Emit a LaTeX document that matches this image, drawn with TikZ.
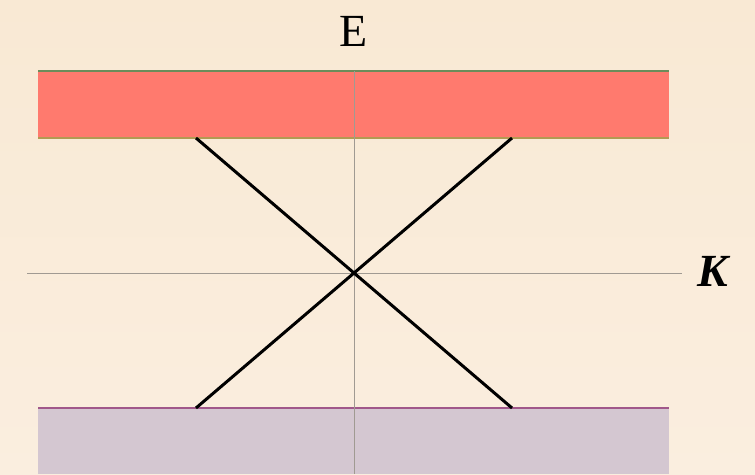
\documentclass[tikz,border=0pt]{standalone}
\usepackage{fontspec}
\setmainfont{Liberation Serif}
\definecolor{bgtop}{HTML}{F9E9D4}
\definecolor{bgbot}{HTML}{FAEEDF}
\definecolor{condband}{HTML}{FF7A6E}
\definecolor{valband}{HTML}{D4C7D1}
\definecolor{condedge}{HTML}{6C8C5A}
\definecolor{condlow}{HTML}{B39A52}
\definecolor{valedge}{HTML}{A0588A}
\definecolor{axisgrey}{HTML}{A09A92}
\tikzset{
  axisline/.style={draw=axisgrey, line width=1pt},
  coneline/.style={draw=black, line width=3pt},
  axislabel/.style={inner sep=0pt, font=\fontsize{46}{52}\selectfont}
}
\begin{document}
\begin{tikzpicture}[x=1pt,y=-1pt]
\useasboundingbox (0,0) rectangle (755,474);
\shade[top color=bgtop, bottom color=bgbot] (0,0) rectangle (755,474);
% bands
\fill[condband] (38,71) rectangle (669,138);
\draw[condedge, line width=1.5pt] (38,71) -- (669,71);
\draw[condlow, line width=1.5pt] (38,138) -- (669,138);
\fill[valband] (38,408) rectangle (669,474);
\draw[valedge, line width=1.5pt] (38,408) -- (669,408);
% axes
\coordinate (etop) at (354,71);
\coordinate (ebot) at (354,474);
\coordinate (kleft) at (27,273);
\coordinate (kright) at (682,273);
\draw[axisline] (etop) -- (ebot);
\draw[axisline] (kleft) -- (kright);
\node[axislabel] (elabel) at (354,31) {E};
\node[axislabel] (klabel) at (714,271) {\textbf{\textit{K}}};
% cone
\coordinate (ul) at (196,138);
\coordinate (ur) at (512,138);
\coordinate (ll) at (196,408);
\coordinate (lr) at (512,408);
\draw[coneline] (ul) -- (lr);
\draw[coneline] (ur) -- (ll);
\end{tikzpicture}
\end{document}
